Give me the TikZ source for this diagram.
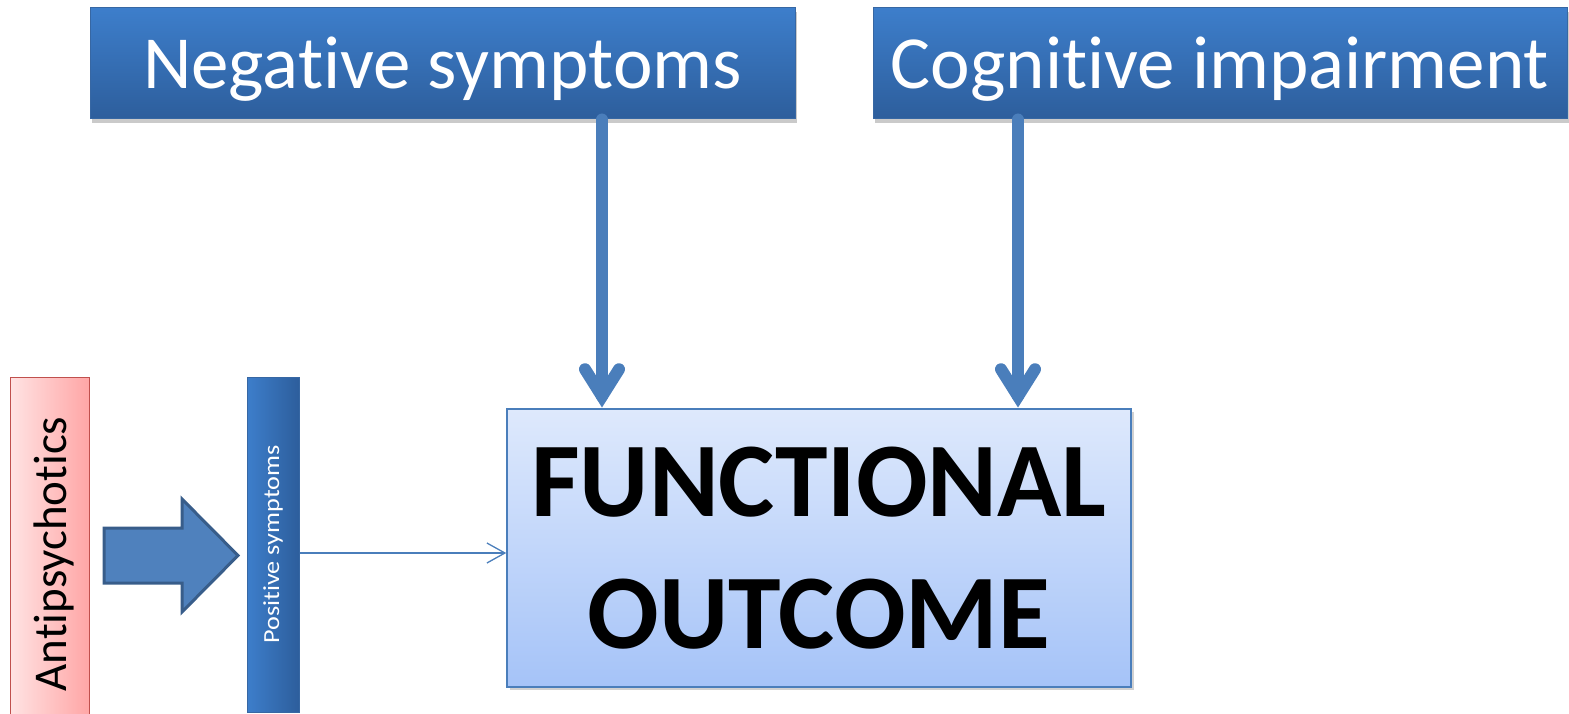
\documentclass[tikz,border=0pt]{standalone}
\usepackage{fontspec}
\setmainfont{Carlito}[Ligatures={NoCommon}]
\usetikzlibrary{arrows.meta,calc,shadows}
\definecolor{topA}{HTML}{3D7ECB}
\definecolor{topB}{HTML}{2D5E9C}
\definecolor{boxline}{HTML}{3767A3}
\definecolor{foA}{HTML}{DEE9FC}
\definecolor{foB}{HTML}{A5C3F8}
\definecolor{foline}{HTML}{4A7EBB}
\definecolor{pinkA}{HTML}{FFE3E3}
\definecolor{pinkB}{HTML}{FFA6A6}
\definecolor{redline}{HTML}{C0504D}
\definecolor{arrowblue}{HTML}{4A7EBB}
\definecolor{blockfill}{HTML}{4F81BD}
\definecolor{blockline}{HTML}{385D8A}
\newcommand{\lowertext}[2]{\raisebox{-#1}[\height][\depth]{#2}}
\tikzset{
  topbox/.style={rectangle, inner sep=0pt, top color=topA, bottom color=topB,
    draw=boxline, line width=1pt, text=white,
    drop shadow={shadow xshift=2pt, shadow yshift=-4pt, opacity=0.35, fill=black!60},
    font=\fontsize{75}{84}\selectfont},
  fobox/.style={rectangle, inner sep=0pt, top color=foA, bottom color=foB,
    draw=foline, line width=1.5pt,
    drop shadow={shadow xshift=3pt, shadow yshift=-3pt, opacity=0.3, fill=black!60},
    font=\bfseries\fontsize{106}{132}\selectfont, align=center},
  antibox/.style={rectangle, inner sep=0pt, left color=pinkA, right color=pinkB,
    draw=redline, line width=1pt},
  posbox/.style={rectangle, inner sep=0pt, left color=topA, right color=topB,
    draw=boxline, line width=1pt},
  bigarrow/.style={draw=arrowblue, line width=12pt, line cap=round, line join=miter},
  thinarrow/.style={draw=arrowblue, line width=1.3pt, -{Straight Barb[length=18pt,width=20pt,line width=1.3pt]}},
  blockarrow/.style={fill=blockfill, draw=blockline, line width=3pt, line join=miter}
}
\begin{document}
\begin{tikzpicture}[x=1pt,y=-1pt]
\useasboundingbox (0,0) rectangle (1569,714);
\node[topbox, minimum width=705pt, minimum height=111pt] (neg) at (442.5,63.5) {\lowertext{6pt}{Negative symptoms}};
\node[topbox, minimum width=694pt, minimum height=111pt] (cog) at (1220,63.5) {\lowertext{6pt}{Cognitive impairment}};
\node[fobox, minimum width=624pt, minimum height=278pt] (fo) at (819,548) {FUNCTIONAL\\OUTCOME};
\node[antibox, minimum width=79pt, minimum height=356pt] (anti) at (49.5,555) {};
\node[rotate=90, font=\fontsize{47}{52}\selectfont, inner sep=0pt] (antitext) at (53.5,554) {Antipsychotics};
\node[posbox, minimum width=52pt, minimum height=335pt] (pos) at (273,544.5) {};
\node[rotate=90, text=white, font=\fontsize{23}{26}\selectfont, inner sep=0pt] (postext) at (pos.center) {\resizebox{198pt}{\height}{Positive symptoms}};
% block arrow
\draw[blockarrow] (104,528) -- (182,528) -- (182,499) -- (238,555.5) -- (182,612) -- (182,583) -- (104,583) -- cycle;
% vertical arrows
\coordinate (a1) at (602,0);
\coordinate (a2) at (1018,0);
\foreach \c in {a1,a2}{
  \coordinate (tip) at (fo.north -| \c);
  \coordinate (v) at ($(tip)+(0,-12)$);
  \draw[bigarrow] (neg.south -| \c) -- (v);
  \draw[bigarrow] ($(v)+(-17,-27)$) -- (v) -- ($(v)+(17,-27)$);
}
% thin arrow
\coordinate (ty) at (0,553);
\draw[thinarrow] (pos.east |- ty) -- (fo.west |- ty);
\end{tikzpicture}
\end{document}
